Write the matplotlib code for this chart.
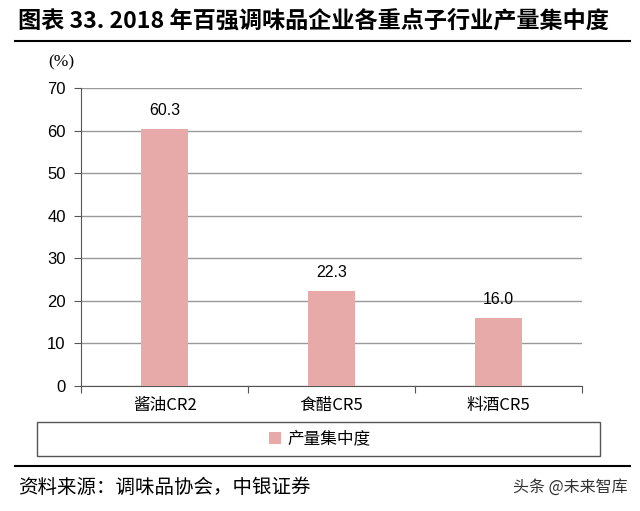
import matplotlib.pyplot as plt
from matplotlib.patches import Rectangle
from matplotlib.lines import Line2D

plt.rcParams['font.family'] = ['Liberation Sans Narrow', 'Liberation Sans', 'Noto Sans CJK SC']

categories = ['酱油CR2', '食醋CR5', '料酒CR5']
values = [60.3, 22.3, 16.0]
yticks = [0, 10, 20, 30, 40, 50, 60, 70]

W, H = 640, 511
fig = plt.figure(figsize=(6.4, 5.11), dpi=100)
ax = fig.add_axes([81 / W, 1 - 386 / H, 501 / W, 298 / H])

bar_color = '#E8A9A9'
bars = ax.bar(range(len(categories)), values, width=0.28, color=bar_color,
              zorder=3, label='产量集中度')
ax.bar_label(bars, labels=[f'{v:.1f}' for v in values], padding=8,
             fontsize=11.5, family=['Liberation Sans', 'Noto Sans CJK SC'])

ax.set_xlim(-0.5, 2.5)
ax.set_ylim(0, 70)
ax.set_yticks(yticks)
ax.set_yticklabels([str(t) for t in yticks], fontsize=12)
ax.set_xticks([-0.5, 0.5, 1.5, 2.5], minor=False)
ax.set_xticklabels([])
ax.set_xticks(range(len(categories)), minor=True)
ax.set_xticklabels(categories, minor=True, fontsize=12,
                   family=['Liberation Sans Narrow', 'Noto Sans CJK SC'])
ax.tick_params(axis='x', which='minor', length=0, pad=8)
ax.tick_params(axis='x', which='major', length=5, color='#555555')
ax.tick_params(axis='y', length=5, color='#555555', pad=6)
ax.grid(axis='y', color='#999999', linewidth=1, zorder=0)
for s in ['top', 'right']:
    ax.spines[s].set_visible(False)
for s in ['left', 'bottom']:
    ax.spines[s].set_color('#555555')

fig.text(61 / W, 1 - 62 / H, '(%)', fontsize=12.5, ha='center', va='center',
         family=['Liberation Serif'])

# title
fig.text(18 / W, 1 - 21 / H, '图表 33. 2018 年百强调味品企业各重点子行业产量集中度',
         fontsize=16.7, fontweight='bold', ha='left', va='center',
         family=['Liberation Sans Narrow', 'Noto Sans CJK SC'])
fig.add_artist(Line2D([15 / W, 630 / W], [1 - 41 / H, 1 - 41 / H], color='black', lw=1.5))

# legend box
fig.add_artist(Rectangle((37 / W, 1 - 456 / H), 563 / W, 34 / H, fill=False,
                         edgecolor='#555555', lw=1, transform=fig.transFigure))
fig.legend(handles=[bars], labels=['产量集中度'], loc='center',
           bbox_to_anchor=(320 / W, 1 - 439 / H), frameon=False,
           prop={'family': 'Noto Sans CJK SC', 'size': 12},
           handlelength=0.7, handleheight=0.7, handletextpad=0.4)

# footer
fig.add_artist(Line2D([15 / W, 630 / W], [1 - 466 / H, 1 - 466 / H], color='black', lw=1.5))
fig.text(18 / W, 1 - 487 / H, '资料来源：调味品协会，中银证券', fontsize=14,
         ha='left', va='center', family=['Noto Sans CJK SC'])
fig.text(628 / W, 1 - 487 / H, '头条 @未来智库', fontsize=11.5, color='#333333',
         ha='right', va='center', family=['Noto Sans CJK SC'])

fig.savefig('out.png', dpi=100)
